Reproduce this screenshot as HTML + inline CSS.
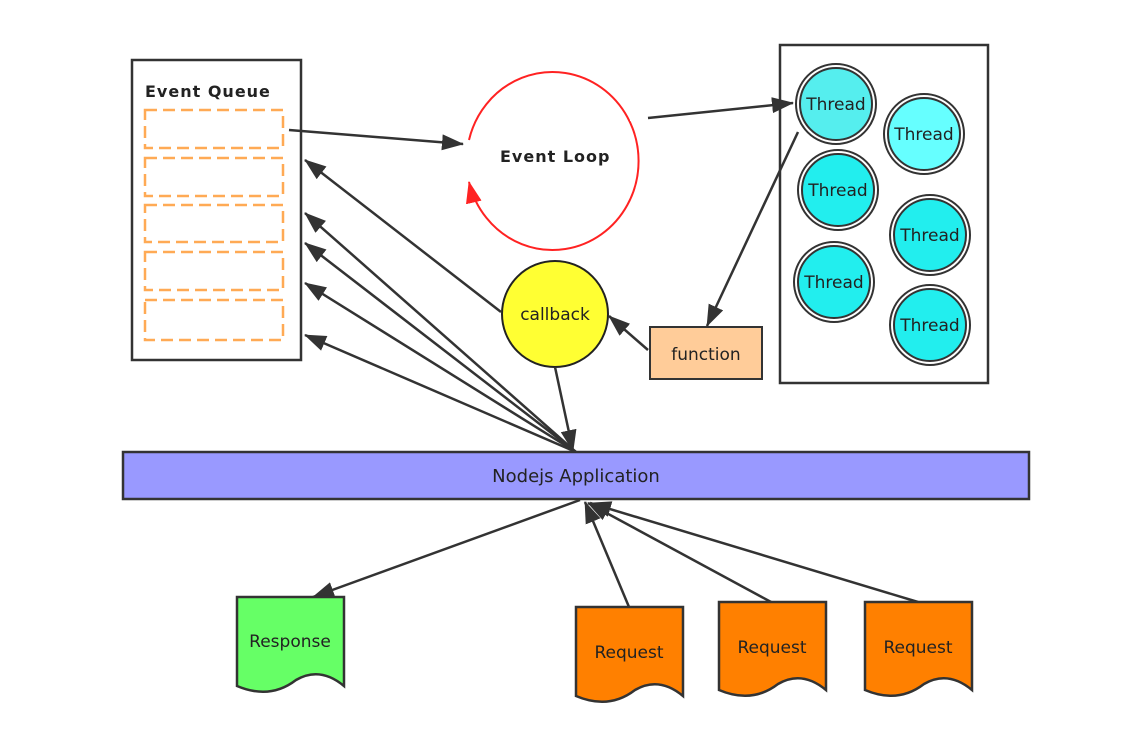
<!DOCTYPE html>
<html><head><meta charset="utf-8"><style>body{margin:0;background:#fff}svg{display:block}text{font-family:"DejaVu Sans","Liberation Sans",sans-serif}</style></head>
<body>
<svg width="1142" height="746" viewBox="0 0 1142 746" xmlns="http://www.w3.org/2000/svg">
<defs>
<marker id="ab" markerWidth="22" markerHeight="16" refX="21" refY="8" orient="auto" markerUnits="userSpaceOnUse" viewBox="0 0 22 16"><path d="M0,0 L22,8 L0,16 Z" fill="#333"/></marker>
<marker id="r" markerWidth="22" markerHeight="16" refX="21" refY="8" orient="auto" markerUnits="userSpaceOnUse" viewBox="0 0 22 16"><path d="M0,0 L22,8 L0,16 Z" fill="#f22"/></marker>
</defs>
<rect x="132" y="60" width="169" height="300" fill="#fff" stroke="#333" stroke-width="2.5"/>
<text x="145" y="97" font-size="16" font-weight="bold" fill="#222" letter-spacing="1">Event Queue</text>
<g fill="none" stroke="#ffaa55" stroke-width="2.5" stroke-dasharray="12,6">
<rect x="145" y="110" width="138" height="38"/><rect x="145" y="158" width="138" height="38"/><rect x="145" y="205" width="138" height="37"/><rect x="145" y="252" width="138" height="38"/><rect x="145" y="300" width="138" height="40"/>
</g>
<path d="M469,140 A86,89 0 1 1 469,182" fill="none" stroke="#f22" stroke-width="2" marker-end="url(#r)"/>
<rect x="630" y="105" width="12" height="16" fill="#fff"/>
<text x="500" y="162" font-size="16" font-weight="bold" fill="#222" letter-spacing="1">Event Loop</text>
<rect x="780" y="45" width="208" height="338" fill="#fff" stroke="#333" stroke-width="2.5"/>
<g stroke="#333" stroke-width="2" fill="#44eeee">
<circle cx="836" cy="104" r="40" fill="#fff"/><circle cx="836" cy="104" r="36" fill="#55eeee"/>
<circle cx="924" cy="134" r="40" fill="#fff"/><circle cx="924" cy="134" r="36" fill="#66ffff"/>
<circle cx="838" cy="190" r="40" fill="#fff"/><circle cx="838" cy="190" r="36" fill="#22eeee"/>
<circle cx="930" cy="235" r="40" fill="#fff"/><circle cx="930" cy="235" r="36" fill="#22eeee"/>
<circle cx="834" cy="282" r="40" fill="#fff"/><circle cx="834" cy="282" r="36" fill="#22eeee"/>
<circle cx="930" cy="325" r="40" fill="#fff"/><circle cx="930" cy="325" r="36" fill="#22eeee"/>
</g>
<g font-size="17" fill="#222" text-anchor="middle">
<text x="836" y="110">Thread</text><text x="924" y="140">Thread</text><text x="838" y="196">Thread</text><text x="930" y="241">Thread</text><text x="834" y="288">Thread</text><text x="930" y="331">Thread</text>
</g>
<circle cx="555" cy="314" r="53" fill="#ffff33" stroke="#222" stroke-width="2"/>
<text x="555" y="320" font-size="17" text-anchor="middle" fill="#222">callback</text>
<rect x="650" y="327" width="112" height="52" fill="#ffcc99" stroke="#333" stroke-width="2"/>
<text x="706" y="360" font-size="17" text-anchor="middle" fill="#222">function</text>
<rect x="123" y="452" width="906" height="47" fill="#9999ff" stroke="#333" stroke-width="2.5"/>
<text x="576" y="482" font-size="18" text-anchor="middle" fill="#222">Nodejs Application</text>
<g stroke="#333" stroke-width="2.5" fill="none">
<line x1="289" y1="130" x2="463" y2="144" marker-end="url(#ab)"/>
<line x1="648" y1="118" x2="793" y2="103" marker-end="url(#ab)"/>
<line x1="798" y1="132" x2="707" y2="326" marker-end="url(#ab)"/>
<line x1="648" y1="350" x2="609" y2="316" marker-end="url(#ab)"/>
<line x1="501" y1="312" x2="305" y2="160" marker-end="url(#ab)"/>
<line x1="576" y1="452" x2="305" y2="213" marker-end="url(#ab)"/>
<line x1="576" y1="452" x2="305" y2="243" marker-end="url(#ab)"/>
<line x1="576" y1="452" x2="305" y2="283" marker-end="url(#ab)"/>
<line x1="576" y1="452" x2="305" y2="335" marker-end="url(#ab)"/>
<line x1="555" y1="367" x2="573" y2="451" marker-end="url(#ab)"/>
<line x1="580" y1="500" x2="313" y2="597" marker-end="url(#ab)"/>
<line x1="629" y1="607" x2="585" y2="502" marker-end="url(#ab)"/>
<line x1="771" y1="602" x2="588" y2="503" marker-end="url(#ab)"/>
<line x1="918" y1="602" x2="590" y2="503" marker-end="url(#ab)"/>
</g>
<g stroke="#333" stroke-width="2.5">
<path d="M237,597 H344 V686 Q320,666 296,680 Q270,700 237,686 Z" fill="#66ff66"/>
<path d="M576,607 H683 V696 Q659,676 635,690 Q609,710 576,696 Z" fill="#ff8000"/>
<path d="M719,602 H826 V690 Q802,670 778,684 Q752,704 719,690 Z" fill="#ff8000"/>
<path d="M865,602 H972 V690 Q948,670 924,684 Q898,704 865,690 Z" fill="#ff8000"/>
</g>
<g font-size="17" fill="#222" text-anchor="middle">
<text x="290" y="647">Response</text><text x="629" y="658">Request</text><text x="772" y="653">Request</text><text x="918" y="653">Request</text>
</g>
</svg>
</body></html>
